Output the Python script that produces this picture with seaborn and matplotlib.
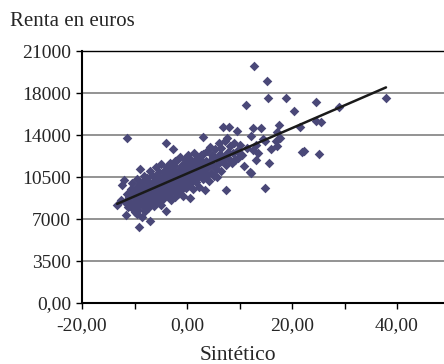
import numpy as np
import pandas as pd
import matplotlib
matplotlib.use("Agg")
import matplotlib.pyplot as plt
import seaborn as sns

"""
Data read off the chart (Sintetico vs renta)
"""
x_sint = [
    -13.3, -12.6, -12.4, -12.0, -11.8, -11.6, -11.4, -11.2, -11.0, -10.7, -10.5, -10.3, -10.1, -10.0,
    -9.9, -9.8, -9.6, -9.5, -9.4, -9.3, -9.1, -9.0, -9.0, -8.9, -8.8, -8.6, -8.6, -8.5, -8.4, -8.3, -8.2, -8.1, -8.0,
    -7.9, -7.8, -7.7, -7.6, -7.5, -7.4, -7.3, -7.2, -7.1, -7.0, -7.0, -6.9, -6.8, -6.7, -6.6, -6.5, -6.4, -6.3, -6.2, -6.1,
    -6.0, -5.9, -5.8, -5.7, -5.6, -5.5, -5.4, -5.3, -5.2, -5.1, -5.0, -4.9, -4.8, -4.7, -4.6, -4.5, -4.4, -4.3, -4.2, -4.1, -4.0, -4.0,
    -3.9, -3.8, -3.7, -3.6, -3.5, -3.4, -3.3, -3.2, -3.1, -3.0, -2.9, -2.8, -2.7, -2.6, -2.5, -2.4, -2.3, -2.2, -2.1,
    -2.0, -1.9, -1.8, -1.7, -1.6, -1.5, -1.4, -1.3, -1.2, -1.1, -1.0, -0.9, -0.8, -0.7, -0.6, -0.5, -0.4, -0.3, -0.2, -0.1,
    0.0, 0.1, 0.2, 0.3, 0.4, 0.6, 0.6, 0.8, 0.9, 1.0, 1.2, 1.3, 1.4, 1.5, 1.7, 1.8, 1.9,
    2.0, 2.2, 2.3, 2.5, 2.6, 2.8, 3.0, 3.0, 3.1, 3.3, 3.5, 3.6, 3.8, 3.9,
    4.0, 4.2, 4.4, 4.5, 4.6, 4.8, 5.0, 5.2, 5.3, 5.5, 5.7, 5.8, 6.0, 6.0,
    6.2, 6.4, 6.5, 6.7, 6.9, 7.0, 7.2, 7.4, 7.5, 7.6, 7.8, 8.0, 8.0, 8.2, 8.5, 8.7, 9.0, 9.2, 9.5, 9.6, 9.8,
    10.1, 10.5, 10.8, 11.2, 11.5, 12.0, 12.2, 12.2, 12.6, 12.6, 12.8, 13.1, 13.1, 13.5, 14.1, 14.5,
    14.9, 14.9, 15.2, 15.4, 15.6, 16.0, 17.0, 17.1, 17.1, 17.5, 17.7, 18.9, 20.4, 21.5, 21.9, 22.3,
    24.6, 24.6, 25.1, 25.5, 29.0, 37.9,
    # denser core of the cloud
    -9.7, -9.2, -8.7, -8.3, -7.8, -7.5, -7.2, -6.9, -6.6, -6.4, -6.1, -5.9, -5.6, -5.3, -5.0, -4.7,
    -4.4, -4.1, -3.8, -3.5, -3.2, -2.9, -2.6, -2.3, -2.0, -1.7, -1.4, -1.1, -0.8, -0.5, -0.2, 0.2,
    0.5, 0.9, 1.3, 1.7, 2.1, 2.6, 3.2, 3.7, 4.3, 5.0, -11.5, -10.8, -10.4, -9.6, -8.0,
]
y_renta = [
    8170, 8600, 9830, 10250, 8420, 7330, 13750, 8000, 8800, 9500, 7900, 9200, 8300, 7600,
    8900, 9600, 10300, 8100, 7750, 9300, 6330, 11170, 8600, 9900, 8350, 7170, 9100, 10100, 8750, 9450, 8000, 10600, 9000,
    8450, 9650, 10400, 8850, 9250, 7900, 10000, 8600, 9500, 6830, 11000, 9100, 8300, 9800, 10700, 8700, 9350, 10200, 8100, 9700,
    11300, 9000, 10500, 8500, 9900, 9300, 10900, 8800, 10100, 9600, 11600, 8200, 9200, 10400, 9800, 8700, 11000, 9500, 10700, 9100, 13330, 7670,
    10000, 11300, 9400, 8900, 10600, 9750, 11700, 9200, 10300, 8600, 11000, 9900, 12830, 10500, 9300, 11400, 10100, 8800, 10800,
    9600, 11900, 10300, 9100, 11100, 10600, 9800, 12200, 10900, 9400, 11500, 10200, 8900, 11300, 10700, 9900, 12000, 10400, 11700, 9600,
    11000, 10500, 12300, 9800, 11400, 8750, 10800, 11900, 10200, 11200, 9500, 12500, 10700, 11600, 10100, 11000, 12100,
    10500, 11400, 9700, 12000, 10900, 11700, 13830, 10300, 12400, 11100, 9400, 11800, 10700, 12700,
    11300, 10200, 13000, 11900, 10800, 12300, 11500, 10600, 12800, 11200, 12000, 10500, 13300, 11700,
    12400, 11000, 12900, 11800, 14670, 12200, 13500, 9420, 11500, 13750, 12600, 14670, 12000, 13100, 11700, 12500, 13300, 11900, 14330, 12700, 12100,
    13170, 12330, 11400, 16500, 12900, 10920, 13920, 10830, 14580, 12750, 19750, 11920, 13200, 12500, 14580, 13700,
    13500, 9580, 18500, 17080, 11670, 12800, 13500, 14250, 13080, 14830, 13750, 17080, 16000, 14670, 12580, 12670,
    16750, 15170, 12420, 15080, 16330, 17080,
    8700, 8400, 9700, 8600, 8900, 10200, 9300, 8700, 9500, 8900, 10500, 9700, 8900, 10400, 9200, 9700,
    10200, 10400, 9600, 9200, 10800, 10200, 9700, 11800, 10600, 10400, 11000, 10500, 10000, 11200, 10400, 11200,
    10000, 11500, 10500, 11800, 11000, 12300, 10800, 11300, 11700, 12200, 9100, 8400, 10000, 7400, 7700,
]

y_ticks = [0, 3500, 7000, 10500, 14000, 17500, 21000]
y_labels = ["0,00", "3500", "7000", "10500", "14000", "18000", "21000"]
x_ticks = [-20, 0, 20, 40]
x_labels = ["-20,00", "0,00", "20,00", "40,00"]

df = pd.DataFrame({"Sintetico": x_sint, "Renta": y_renta})

sns.set_style("white")
plt.rcParams["font.family"] = ["Liberation Serif", "DejaVu Serif"]

fig = plt.figure(figsize=(4.44, 3.64), dpi=100)
ax = fig.add_axes([82 / 444, 1 - 303 / 364, 1 - 82 / 444, (303 - 51) / 364])

ax.yaxis.grid(True, color="#808080", lw=1.2)
ax.set_axisbelow(True)

sns.regplot(data=df, x="Sintetico", y="Renta", ax=ax, ci=None, marker="D",
            scatter_kws={"s": 24, "color": "#4a4878", "linewidths": 0, "alpha": 1},
            line_kws={"color": "#1a1a1a", "lw": 1.8})

ax.set_xlim(-20, 48.95)
ax.set_ylim(0, 21000)
ax.set_yticks(y_ticks)
ax.set_yticklabels(y_labels)
ax.set_xticks(x_ticks)
ax.set_xticklabels(x_labels)
ax.set_xticks([-10, 10, 30], minor=True)
ax.tick_params(axis="both", which="both", direction="out", length=4, width=1,
               color="black", labelsize=14, bottom=True, left=True)
ax.tick_params(axis="x", pad=6)
ax.tick_params(axis="y", pad=4)
ax.set_xlabel("")
ax.set_ylabel("")

for s in ["left", "bottom"]:
    ax.spines[s].set_color("black")
    ax.spines[s].set_linewidth(1.5)
ax.spines["top"].set_color("black")
ax.spines["top"].set_linewidth(1)
ax.spines["right"].set_visible(False)

fig.text(10 / 444, 1 - 21 / 364, "Renta en euros", fontsize=15, va="center", ha="left")
fig.text(238 / 444, 1 - 356 / 364, "Sintético", fontsize=15.5, va="center", ha="center")

fig.savefig("out.png", dpi=100)
